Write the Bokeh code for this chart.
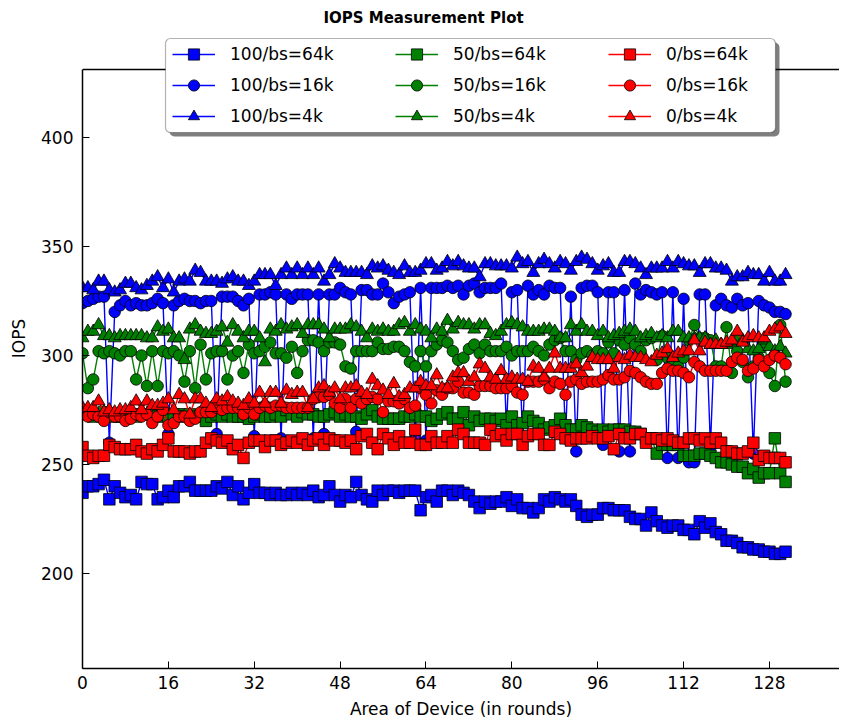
from bokeh.plotting import figure
from bokeh.models import Range1d, FixedTicker, Legend, LegendItem, BoxAnnotation, Span, Label
from bokeh.embed import file_html
from bokeh.resources import INLINE

# ---------------- data ----------------
rounds = list(range(132))
x_ticks = [0, 16, 32, 48, 64, 80, 96, 112, 128]
y_ticks = [200, 250, 300, 350, 400]

labels = ["100/bs=64k", "100/bs=16k", "100/bs=4k",
          "50/bs=64k", "50/bs=16k", "50/bs=4k",
          "0/bs=64k", "0/bs=16k", "0/bs=4k"]

r100_bs64k = [237, 240, 240, 241, 243, 234, 240, 237, 235, 236,
              234, 242, 241, 241, 234, 235, 238, 235, 240, 240,
              242, 238, 238, 238, 238, 240, 239, 242, 236, 240,
              234, 237, 241, 237, 237, 236, 237, 236, 236, 237,
              236, 237, 236, 238, 235, 236, 240, 236, 233, 236,
              235, 242, 236, 234, 233, 238, 236, 238, 238, 237,
              238, 238, 238, 229, 235, 236, 233, 238, 238, 236,
              238, 237, 236, 233, 230, 233, 232, 233, 233, 235,
              231, 234, 230, 230, 228, 230, 234, 233, 235, 234,
              233, 234, 231, 227, 226, 227, 227, 230, 230, 229,
              229, 229, 226, 225, 225, 222, 228, 224, 222, 221,
              222, 222, 220, 220, 218, 224, 221, 223, 219, 218,
              215, 215, 214, 212, 212, 211, 211, 210, 210, 209,
              209, 210]

r100_bs16k = [324, 325, 326, 327, 327, 260, 320, 323, 325, 323,
              324, 323, 323, 324, 326, 324, 264, 323, 325, 326,
              325, 325, 324, 325, 325, 264, 327, 327, 327, 325,
              323, 326, 263, 328, 328, 329, 328, 262, 328, 326,
              328, 328, 328, 262, 328, 264, 328, 328, 331, 329,
              328, 265, 330, 330, 328, 328, 333, 329, 324, 327,
              328, 329, 262, 331, 261, 331, 331, 331, 332, 331,
              332, 328, 332, 333, 329, 331, 331, 331, 333, 266,
              329, 330, 262, 332, 328, 330, 328, 332, 331, 331,
              262, 327, 256, 331, 332, 332, 329, 259, 329, 329,
              256, 330, 256, 333, 328, 330, 329, 328, 329, 253,
              329, 253, 326, 251, 251, 328, 328, 258, 323, 326,
              323, 322, 326, 323, 324, 255, 325, 323, 322, 320,
              320, 319]

r100_bs4k = [331, 331, 330, 334, 334, 330, 329, 330, 333, 333,
             331, 330, 332, 334, 336, 331, 335, 329, 334, 335,
             334, 339, 338, 334, 334, 334, 333, 335, 336, 334,
             334, 332, 334, 337, 337, 337, 332, 337, 340, 337,
             340, 337, 340, 337, 340, 334, 337, 342, 340, 338,
             338, 338, 338, 337, 341, 340, 341, 339, 338, 337,
             341, 338, 338, 339, 342, 342, 339, 340, 343, 341,
             343, 341, 340, 340, 336, 342, 342, 341, 341, 341,
             340, 345, 342, 343, 338, 342, 344, 342, 340, 343,
             342, 339, 343, 345, 344, 342, 339, 341, 342, 338,
             338, 343, 343, 342, 340, 337, 340, 340, 340, 343,
             340, 343, 342, 341, 341, 338, 342, 342, 340, 340,
             339, 334, 336, 336, 338, 337, 337, 334, 338, 334,
             334, 337]

r50_bs64k = [273, 274, 272, 273, 274, 273, 272, 272, 273, 273,
             272, 273, 273, 274, 272, 273, 272, 273, 273, 272,
             273, 272, 272, 270, 272, 273, 272, 273, 272, 272,
             272, 271, 272, 273, 272, 272, 273, 272, 275, 273,
             272, 274, 273, 273, 272, 272, 273, 274, 272, 273,
             272, 272, 271, 273, 275, 272, 271, 271, 271, 271,
             272, 272, 273, 272, 272, 270, 271, 273, 274, 271,
             271, 274, 268, 272, 270, 271, 271, 270, 271, 268,
             272, 268, 269, 272, 270, 269, 266, 267, 268, 271,
             268, 266, 266, 268, 267, 266, 265, 266, 265, 266,
             266, 266, 265, 265, 264, 262, 262, 255, 259, 259,
             259, 259, 254, 254, 254, 255, 255, 254, 253, 251,
             251, 250, 249, 249, 246, 248, 244, 246, 246, 262,
             246, 242]

r50_bs16k = [301, 285, 289, 302, 301, 302, 301, 300, 302, 302,
             289, 300, 286, 302, 286, 302, 301, 302, 300, 288,
             302, 285, 305, 289, 301, 302, 302, 289, 300, 302,
             292, 305, 301, 302, 304, 306, 301, 301, 299, 304,
             292, 302, 307, 307, 306, 302, 306, 306, 305, 295,
             294, 302, 302, 302, 302, 306, 303, 303, 304, 304,
             302, 297, 295, 302, 295, 302, 305, 307, 306, 302,
             298, 299, 303, 305, 301, 305, 302, 302, 302, 304,
             300, 302, 302, 302, 304, 302, 300, 305, 307, 308,
             302, 302, 298, 301, 302, 300, 302, 301, 306, 301,
             307, 305, 308, 305, 302, 307, 308, 298, 309, 299,
             298, 295, 299, 307, 314, 308, 308, 307, 295, 295,
             313, 292, 302, 297, 290, 295, 299, 306, 292, 286,
             314, 288]

r50_bs4k = [308, 311, 311, 314, 309, 309, 308, 309, 309, 309,
            309, 309, 308, 308, 313, 311, 312, 308, 308, 298,
            312, 314, 311, 310, 310, 311, 313, 306, 314, 311,
            308, 311, 311, 308, 297, 312, 311, 314, 312, 313,
            314, 310, 314, 314, 314, 312, 308, 312, 312, 312,
            314, 313, 311, 308, 312, 311, 312, 311, 311, 314,
            315, 311, 314, 312, 311, 308, 312, 311, 316, 312,
            315, 314, 314, 312, 314, 314, 310, 309, 311, 314,
            315, 314, 313, 311, 311, 311, 312, 312, 311, 308,
            308, 314, 311, 314, 311, 311, 309, 311, 308, 309,
            310, 311, 312, 311, 308, 309, 310, 308, 309, 308,
            311, 311, 308, 308, 308, 308, 308, 305, 307, 305,
            305, 306, 307, 307, 303, 302, 303, 307, 304, 302,
            304, 301]

r0_bs64k = [258, 254, 253, 254, 254, 259, 258, 257, 257, 257,
            259, 256, 255, 257, 256, 259, 262, 256, 256, 256,
            255, 256, 256, 260, 262, 261, 260, 261, 257, 259,
            253, 260, 261, 261, 258, 261, 261, 259, 260, 261,
            260, 262, 259, 261, 262, 259, 262, 261, 261, 260,
            261, 257, 263, 264, 260, 257, 264, 262, 259, 263,
            260, 260, 266, 259, 259, 263, 260, 260, 263, 260,
            266, 264, 260, 260, 260, 259, 266, 263, 264, 261,
            264, 264, 259, 263, 264, 264, 259, 259, 265, 264,
            262, 261, 262, 262, 262, 263, 262, 262, 263, 257,
            264, 262, 262, 264, 264, 260, 262, 262, 261, 262,
            261, 260, 260, 262, 262, 261, 262, 260, 262, 260,
            256, 256, 255, 255, 256, 260, 252, 254, 253, 253,
            253, 251]

r0_bs16k = [274, 272, 273, 272, 270, 274, 272, 272, 270, 271,
            273, 272, 273, 269, 272, 275, 268, 269, 272, 272,
            270, 271, 274, 274, 274, 276, 275, 276, 276, 276,
            273, 276, 273, 276, 277, 276, 277, 277, 276, 276,
            276, 276, 276, 280, 281, 281, 282, 278, 276, 280,
            276, 280, 278, 280, 281, 280, 274, 279, 279, 278,
            280, 276, 277, 285, 282, 278, 284, 282, 285, 285,
            288, 283, 283, 282, 286, 286, 286, 285, 285, 285,
            286, 283, 282, 288, 288, 288, 289, 285, 288, 287,
            282, 288, 289, 287, 288, 288, 288, 289, 291, 289,
            289, 290, 293, 292, 290, 288, 287, 287, 292, 294,
            293, 293, 292, 290, 297, 295, 293, 293, 293, 293,
            293, 297, 299, 298, 293, 294, 298, 295, 298, 300,
            299, 296]

r0_bs4k = [276, 276, 276, 279, 274, 275, 274, 275, 275, 276,
           279, 275, 279, 277, 277, 278, 280, 275, 282, 280,
           273, 280, 280, 278, 276, 280, 279, 281, 279, 278,
           277, 280, 278, 283, 278, 283, 283, 278, 284, 282,
           283, 283, 276, 280, 285, 286, 283, 285, 280, 285,
           285, 286, 283, 282, 289, 286, 284, 282, 287, 281,
           282, 285, 285, 288, 286, 286, 291, 285, 285, 290,
           292, 292, 288, 290, 296, 294, 290, 289, 293, 289,
           290, 289, 289, 288, 295, 294, 290, 294, 301, 294,
           294, 294, 296, 292, 295, 299, 298, 298, 298, 294,
           299, 298, 300, 299, 299, 298, 297, 300, 301, 303,
           299, 301, 302, 302, 307, 302, 306, 305, 305, 305,
           306, 307, 311, 306, 308, 309, 308, 308, 311, 312,
           313, 310]

series_values = [r100_bs64k, r100_bs16k, r100_bs4k,
                 r50_bs64k, r50_bs16k, r50_bs4k,
                 r0_bs64k, r0_bs16k, r0_bs4k]

# ---------------- styles / layout ----------------
FONT = "DejaVu Sans"
colors = ["#0000ff"] * 3 + ["#008000"] * 3 + ["#ff0000"] * 3
markers = ["square", "circle", "triangle"] * 3
msizes = [11.5, 11.5, 13] * 3

# frame in page pixels
FL, FR, FT, FB = 82, 839, 8, 668
X0, X1 = 0, 141.05
Y0, Y1 = 156.42, 459.17


def px_x(px):
    return X0 + (px - FL) / (FR - FL) * (X1 - X0)


def px_y(py):
    return Y1 - (py - FT) / (FB - FT) * (Y1 - Y0)


p = figure(width=839, height=722, x_range=Range1d(X0, X1), y_range=Range1d(Y0, Y1),
           output_backend="svg", toolbar_location=None,
           min_border_left=82, min_border_right=0, min_border_top=8, min_border_bottom=54)
p.outline_line_color = None
p.xgrid.visible = False
p.ygrid.visible = False
p.background_fill_color = "white"
p.border_fill_color = "white"

for ax in (p.xaxis[0], p.yaxis[0]):
    ax.axis_line_color = "black"
    ax.axis_line_width = 1.5
    ax.major_tick_line_color = "black"
    ax.major_tick_line_width = 1
    ax.major_tick_in = 7
    ax.major_tick_out = 0
    ax.minor_tick_line_color = None
    ax.major_label_text_font = FONT
    ax.major_label_text_font_size = "17px"
    ax.major_label_text_color = "black"
    ax.axis_label_text_font = FONT
    ax.axis_label_text_font_size = "17px"
    ax.axis_label_text_font_style = "normal"
    ax.axis_label_text_color = "black"

p.xaxis[0].ticker = FixedTicker(ticks=x_ticks)
p.xaxis[0].major_label_standoff = 7
p.xaxis[0].axis_label = "Area of Device (in rounds)"
p.xaxis[0].axis_label_standoff = 7

p.yaxis[0].ticker = FixedTicker(ticks=y_ticks)
p.yaxis[0].bounds = (Y0, px_y(69))
p.yaxis[0].major_label_standoff = 9
p.yaxis[0].axis_label = "IOPS"
p.yaxis[0].axis_label_standoff = 9

# top spine
p.add_layout(Span(location=px_y(69), dimension="width", line_color="black", line_width=1.5))

items = []
for lab, vals, col, mk, ms in zip(labels, series_values, colors, markers, msizes):
    lr = p.line(rounds, vals, line_color=col, line_width=1.4)
    sr = p.scatter(rounds, vals, marker=mk, size=ms, fill_color=col,
                   line_color="black", line_width=0.8)
    items.append(LegendItem(label=lab, renderers=[lr, sr]))

# legend frame with shadow
p.add_layout(BoxAnnotation(left=px_x(169), right=px_x(779), top=px_y(42), bottom=px_y(136),
                           fill_color="black", fill_alpha=0.5, line_color=None,
                           border_radius=5))
p.add_layout(BoxAnnotation(left=px_x(165), right=px_x(775), top=px_y(38), bottom=px_y(132),
                           fill_color="white", fill_alpha=1.0, line_color="black",
                           line_width=1.2, border_radius=5))

col_x = [172, 395, 608]
for c in range(3):
    lg = Legend(items=items[3 * c:3 * c + 3], location=(col_x[c] - FL, FB - 130),
                orientation="vertical", padding=0, margin=0, spacing=3,
                glyph_width=43, glyph_height=28, label_height=20, label_standoff=15,
                label_text_font=FONT, label_text_font_size="17px", label_text_color="black",
                background_fill_alpha=0, border_line_alpha=0)
    p.add_layout(lg)

p.add_layout(Label(x=px_x(423), y=px_y(17), text="IOPS Measurement Plot",
                   text_font=FONT, text_font_style="bold", text_font_size="15px",
                   text_align="center", text_baseline="middle", text_color="black"))

open("out.html", "w").write(file_html(p, INLINE))
